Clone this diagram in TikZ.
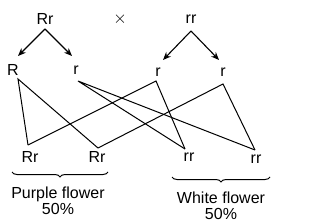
\documentclass[tikz,border=0pt]{standalone}
\usepackage{fontspec}
\setmainfont{Liberation Sans}
\usetikzlibrary{arrows.meta,decorations.pathreplacing}
\begin{document}
\begin{tikzpicture}[x=1pt,y=-1pt,
  lbl/.style={font=\fontsize{16}{17}\selectfont, inner sep=0pt},
  captxt/.style={font=\fontsize{16}{17}\selectfont, inner sep=0pt, align=center},
  arr/.style={-{Stealth[length=8pt,width=6.5pt]}, line width=1.1pt},
  ln/.style={line width=1pt},
  br/.style={decorate, decoration={brace, amplitude=5pt, mirror}, line width=1pt}]
\useasboundingbox (0,0) rectangle (315,224);
% parents
\node[lbl] (p1) at (45,19) {Rr};
\node[lbl] (x) at (120,19) {$\times$};
\node[lbl] (p2) at (191,19) {rr};
% gametes
\node[lbl] (gR) at (13,70) {R};
\node[lbl] (gr1) at (76,70) {r};
\node[lbl] (gr2) at (158,72) {r};
\node[lbl] (gr3) at (223,72) {r};
\coordinate (a1) at (45,29);
\coordinate (a2) at (191,31);
\coordinate (t1) at (18,56);
\coordinate (t2) at (72,56);
\coordinate (t3) at (163,60);
\coordinate (t4) at (219,60);
\draw[arr] (a1) -- (t1);
\draw[arr] (a1) -- (t2);
\draw[arr] (a2) -- (t3);
\draw[arr] (a2) -- (t4);
% line end points
\coordinate (eR) at (18,79);
\coordinate (er1) at (78,81);
\coordinate (er2) at (156,81);
\coordinate (er3) at (223,84);
\coordinate (o1) at (28,145);
\coordinate (o2) at (98,148);
\coordinate (o3) at (185,149);
\coordinate (o4) at (255,150);
\draw[ln] (o1) -- (eR) -- (o2);
\draw[ln] (o3) -- (er1) -- (o4);
\draw[ln] (o1) -- (er2) -- (o3);
\draw[ln] (o2) -- (er3) -- (o4);
% offspring
\node[lbl] (c1) at (30,157) {Rr};
\node[lbl] (c2) at (97,157) {Rr};
\node[lbl] (c3) at (189,157) {rr};
\node[lbl] (c4) at (256,159) {rr};
% braces
\coordinate (b1) at (12,172);
\coordinate (b2) at (108,172);
\coordinate (b3) at (172,177);
\coordinate (b4) at (270,177);
\draw[br] (b1) -- (b2);
\draw[br] (b3) -- (b4);
\node[captxt] (f1) at (58,201) {Purple flower\\[-1pt]50\%};
\node[captxt] (f2) at (221,206) {White flower\\[-1pt]50\%};
\end{tikzpicture}
\end{document}
